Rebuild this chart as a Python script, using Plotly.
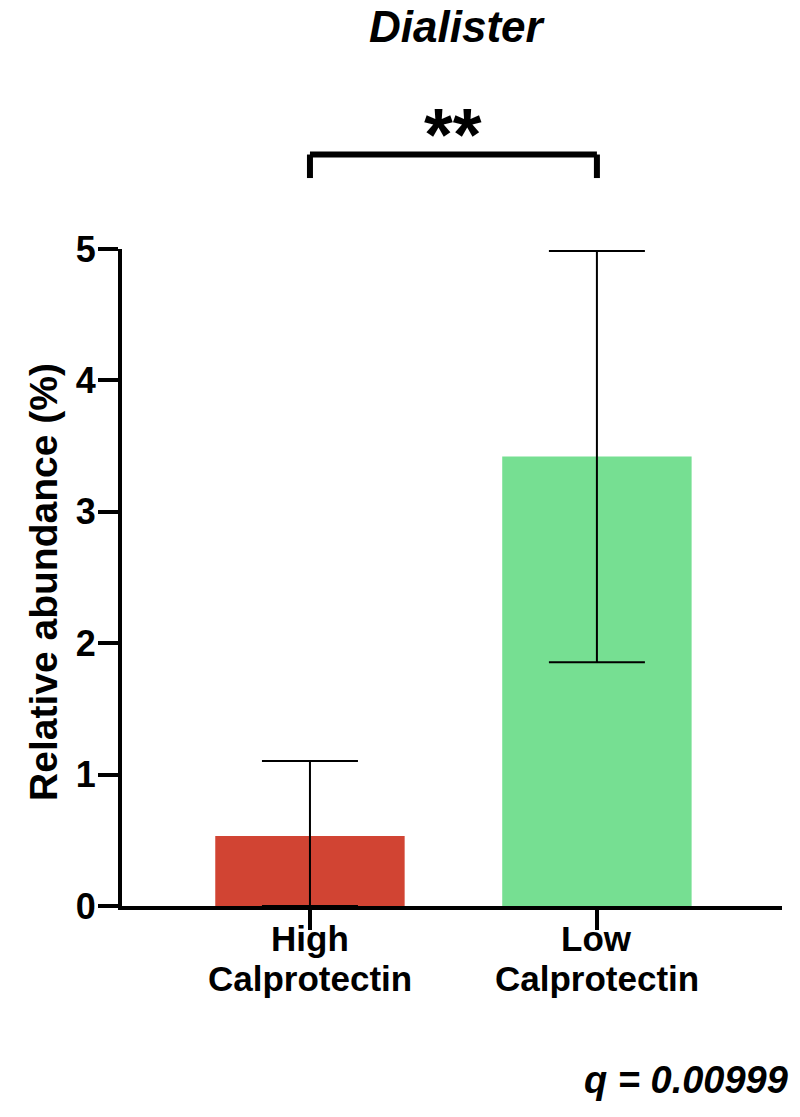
import plotly.graph_objects as go

# ---- data ----
categories = ["High Calprotectin", "Low Calprotectin"]
label_line1 = ["High", "Low"]
label_line2 = ["Calprotectin", "Calprotectin"]
means = [0.533, 3.42]
err_plus = [0.57, 1.565]
err_minus = [0.533, 1.565]
bar_colors = ["rgb(209,68,51)", "rgb(118,223,146)"]
y_ticks = [0, 1, 2, 3, 4, 5]
title_text = "Dialister"
sig_text = "**"
q_text = "q = 0.00999"
y_title = "Relative abundance (%)"

FONT = "Liberation Sans, Arial, sans-serif"

fig = go.Figure()
fig.add_trace(go.Bar(
    x=list(range(len(categories))),
    y=means,
    width=0.66,
    marker=dict(color=bar_colors, line=dict(width=0)),
    error_y=dict(type="data", symmetric=False, array=err_plus, arrayminus=err_minus,
                 color="black", thickness=2, width=48),
    hovertext=categories,
))

fig.update_layout(
    width=800, height=1117,
    margin=dict(l=122, r=18, t=249, b=211),
    plot_bgcolor="white", paper_bgcolor="white",
    showlegend=False,
    font=dict(family=FONT, color="black"),
    xaxis=dict(range=[-0.655, 1.645], tickvals=list(range(len(categories))),
               showticklabels=False, ticks="outside", ticklen=20, tickwidth=4,
               tickcolor="black", showline=True, linewidth=4, linecolor="black",
               showgrid=False, zeroline=False, layer="above traces"),
    yaxis=dict(range=[0, 5], tickvals=y_ticks, ticks="outside", ticklen=20, tickwidth=4,
               tickcolor="black", showline=True, linewidth=4, linecolor="black",
               showgrid=False, zeroline=False, layer="above traces",
               ticklabelstandoff=-5,
               tickfont=dict(family=FONT, size=36, color="black", weight="bold")),
)

# x labels as two-line annotations
for i in range(len(categories)):
    fig.add_annotation(x=i, xref="x", y=-0.049, yref="paper", text=label_line1[i],
                       showarrow=False, yanchor="middle",
                       font=dict(family=FONT, size=35, color="black", weight="bold"))
    fig.add_annotation(x=i, xref="x", y=-0.111, yref="paper", text=label_line2[i],
                       showarrow=False, yanchor="middle",
                       font=dict(family=FONT, size=35, color="black", weight="bold"))

# y axis title
fig.add_annotation(x=-0.12, xref="paper", y=0.493, yref="paper", text=y_title,
                   textangle=-90, showarrow=False, xanchor="center", yanchor="middle",
                   font=dict(family=FONT, size=39, color="black", weight="bold"))

# title
fig.add_annotation(x=0.508, xref="paper", y=1.338, yref="paper", text=title_text,
                   showarrow=False, yanchor="middle",
                   font=dict(family=FONT, size=44, color="black", weight="bold", style="italic"))

# significance bracket
y_top = 1.1438
y_bot = 1.108
fig.add_shape(type="line", xref="x", yref="paper", x0=0, x1=1, y0=y_top, y1=y_top,
              line=dict(color="black", width=6))
fig.add_shape(type="line", xref="x", yref="paper", x0=0, x1=0, y0=y_top, y1=y_bot,
              line=dict(color="black", width=6))
fig.add_shape(type="line", xref="x", yref="paper", x0=1, x1=1, y0=y_top, y1=y_bot,
              line=dict(color="black", width=6))
fig.add_annotation(x=0.5, xref="x", y=1.175, yref="paper", text=sig_text,
                   showarrow=False, yanchor="middle",
                   font=dict(family=FONT, size=74, color="black", weight="bold"))

# q value
fig.add_annotation(x=1.012, xref="paper", y=-0.265, yref="paper", text=q_text,
                   showarrow=False, xanchor="right", yanchor="middle",
                   font=dict(family=FONT, size=38, color="black", weight="bold", style="italic"))

fig.write_html("out.html", config={"displayModeBar": False},
               post_script="document.body.style.margin='0';document.body.style.padding='0';")
